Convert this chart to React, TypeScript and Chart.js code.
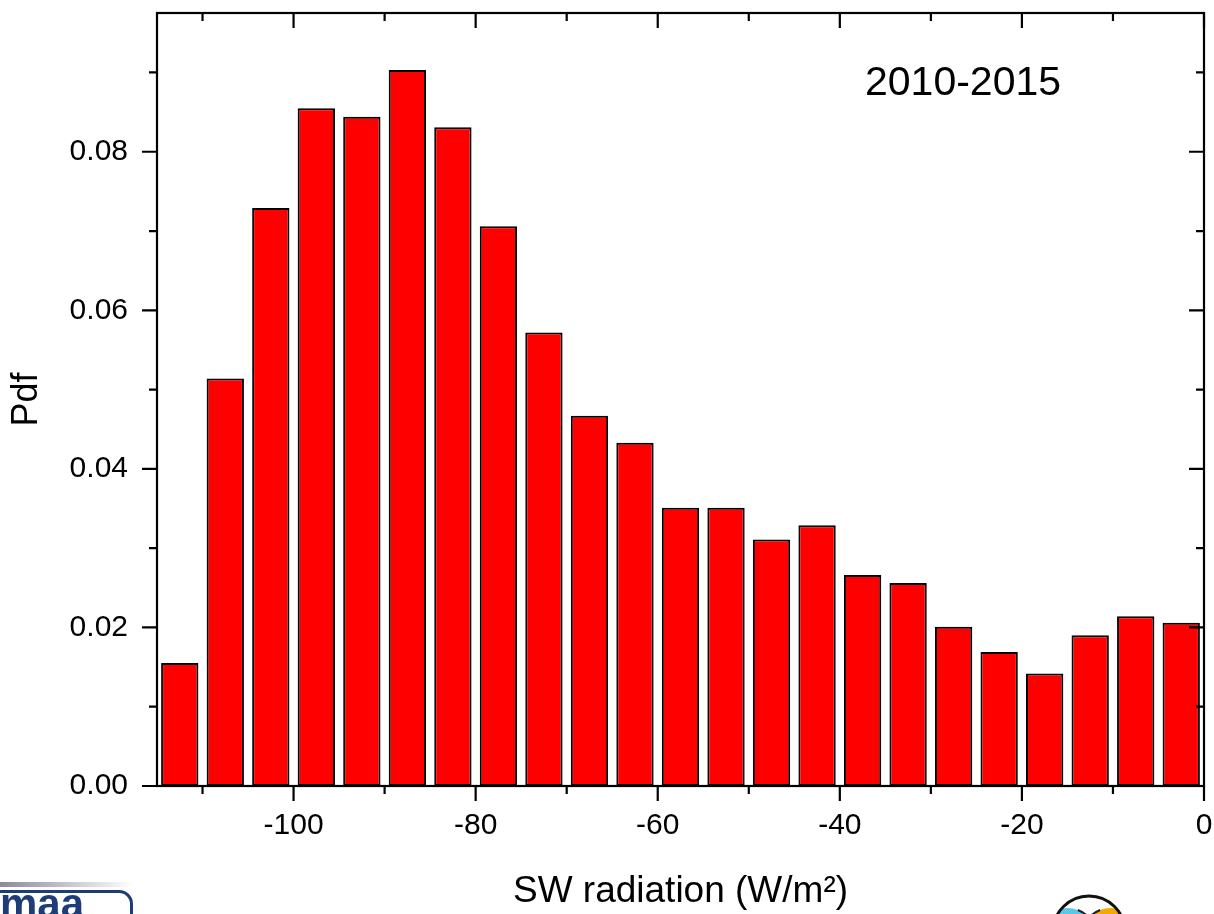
import React, { useEffect, useRef } from 'react';
import { Chart, registerables } from 'chart.js';

Chart.register(...registerables);

// Histogram bin centres (W/m^2), bin width 5
const binCenters = [
  -112.5, -107.5, -102.5, -97.5, -92.5, -87.5, -82.5, -77.5, -72.5, -67.5, -62.5, -57.5,
  -52.5, -47.5, -42.5, -37.5, -32.5, -27.5, -22.5, -17.5, -12.5, -7.5, -2.5,
];
const pdfValues = [
  0.0155, 0.0514, 0.0729, 0.0855, 0.0844, 0.0903, 0.0831, 0.0706, 0.0572, 0.0467, 0.0433, 0.0351,
  0.0351, 0.0311, 0.0329, 0.0266, 0.0256, 0.0201, 0.0169, 0.0142, 0.019, 0.0214, 0.0206,
];
const xMajorTicks = [-100, -80, -60, -40, -20, 0];
const xMinorTicks = [-110, -90, -70, -50, -30, -10];
const yMajorTicks = [0, 0.02, 0.04, 0.06, 0.08];
const yMinorTicks = [0.01, 0.03, 0.05, 0.07, 0.09];
const periodLabel = '2010-2015';
const xTitle = 'SW radiation (W/m²)';
const yTitle = 'Pdf';

const FONT = '"Liberation Sans", Arial, sans-serif';

const zeroPadding = (scale: any) => {
  scale.paddingTop = 0;
  scale.paddingBottom = 0;
  scale.paddingLeft = 0;
  scale.paddingRight = 0;
};

const framePlugin = {
  id: 'frameTicks',
  afterDatasetsDraw(chart: any) {
    const { ctx, chartArea, scales } = chart;
    const { left, right, top, bottom } = chartArea;
    const x = scales.x;
    const y = scales.y;
    ctx.save();
    ctx.strokeStyle = '#000';
    ctx.lineWidth = 2.2;
    ctx.strokeRect(left, top, right - left, bottom - top);
    ctx.beginPath();
    const xt = (v: number, len: number) => {
      const px = x.getPixelForValue(v);
      ctx.moveTo(px, bottom);
      ctx.lineTo(px, bottom + len);
      ctx.moveTo(px, top);
      ctx.lineTo(px, top + len);
    };
    const yt = (v: number, len: number) => {
      const py = y.getPixelForValue(v);
      ctx.moveTo(left - len, py);
      ctx.lineTo(left, py);
      ctx.moveTo(right, py);
      ctx.lineTo(right - len, py);
    };
    xMajorTicks.forEach((v) => xt(v, 15));
    xMinorTicks.forEach((v) => xt(v, 8));
    yMajorTicks.forEach((v) => yt(v, 15));
    yMinorTicks.forEach((v) => yt(v, 8));
    ctx.stroke();

    ctx.fillStyle = '#000';
    ctx.font = `41px ${FONT}`;
    ctx.textAlign = 'left';
    ctx.textBaseline = 'alphabetic';
    ctx.fillText(periodLabel, 865, 95);
    ctx.restore();
  },
  afterDraw(chart: any) {
    const { ctx } = chart;
    ctx.save();
    // bottom-left logo fragment
    const g = ctx.createLinearGradient(0, 0, 133, 0);
    g.addColorStop(0, '#8a8a9c');
    g.addColorStop(1, '#ffffff');
    ctx.fillStyle = g;
    ctx.fillRect(0, 882, 133, 5);
    ctx.strokeStyle = '#1d3c78';
    ctx.lineWidth = 3;
    ctx.beginPath();
    ctx.moveTo(-10, 891.5);
    ctx.lineTo(119, 891.5);
    ctx.arcTo(131.5, 891.5, 131.5, 904, 12.5);
    ctx.lineTo(131.5, 920);
    ctx.stroke();
    ctx.fillStyle = '#1d3c78';
    ctx.font = `bold 42px ${FONT}`;
    ctx.textBaseline = 'alphabetic';
    ctx.fillText('maa', 0, 918);

    // bottom-right logo fragment
    const cx = 1089;
    const cy = 932;
    const r = 36;
    ctx.save();
    ctx.beginPath();
    ctx.arc(cx, cy, r, 0, Math.PI * 2);
    ctx.clip();
    ctx.fillStyle = '#ffffff';
    ctx.fillRect(cx - r, cy - r, 2 * r, 2 * r);
    ctx.fillStyle = '#5cc8e6';
    ctx.beginPath();
    ctx.arc(cx - 22, cy + 6, 30, 0, Math.PI * 2);
    ctx.fill();
    ctx.fillStyle = '#f2a900';
    ctx.beginPath();
    ctx.arc(cx + 22, cy + 6, 30, 0, Math.PI * 2);
    ctx.fill();
    ctx.strokeStyle = '#222';
    ctx.lineWidth = 2;
    ctx.beginPath();
    ctx.arc(cx - 22, cy + 6, 30, -1.2, 0.2);
    ctx.moveTo(cx + 22 + 30 * Math.cos(Math.PI + 1.2), cy + 6 - 30 * Math.sin(1.2));
    ctx.arc(cx + 22, cy + 6, 30, Math.PI + 1.2, Math.PI - 0.2, true);
    ctx.stroke();
    ctx.restore();
    ctx.strokeStyle = '#111';
    ctx.lineWidth = 3;
    ctx.beginPath();
    ctx.arc(cx, cy, r, 0, Math.PI * 2);
    ctx.stroke();
    ctx.restore();
  },
};

export default function App() {
  const canvasRef = useRef<HTMLCanvasElement | null>(null);

  useEffect(() => {
    document.body.style.margin = '0';
    const canvas = canvasRef.current;
    if (!canvas) return;
    const chart = new Chart(canvas, {
      type: 'bar',
      data: {
        datasets: [
          {
            data: binCenters.map((c, i) => ({ x: c, y: pdfValues[i] })),
            backgroundColor: '#ff0000',
            borderColor: '#000000',
            borderWidth: 2,
            borderSkipped: false,
            barPercentage: 0.82,
            categoryPercentage: 1,
          },
        ],
      },
      options: {
        animation: false,
        responsive: false,
        maintainAspectRatio: false,
        devicePixelRatio: 1,
        layout: { padding: { top: 13, right: 10, left: 0, bottom: 0 } },
        plugins: {
          legend: { display: false },
          tooltip: { enabled: false },
        },
        scales: {
          x: {
            type: 'linear',
            min: -115,
            max: 0,
            offset: false,
            grid: { display: false, drawTicks: false },
            border: { display: false },
            afterBuildTicks: (scale: any) => {
              scale.ticks = xMajorTicks.map((v) => ({ value: v }));
            },
            afterFit: (scale: any) => {
              scale.height = 128;
              zeroPadding(scale);
            },
            ticks: {
              color: '#000',
              font: { family: FONT, size: 30 },
              padding: 22,
              maxRotation: 0,
              autoSkip: false,
              callback: (v: any) => String(v),
            },
            title: {
              display: true,
              text: xTitle,
              color: '#000',
              font: { family: FONT, size: 37 },
              padding: { top: 0, bottom: 0 },
            },
          },
          y: {
            type: 'linear',
            min: 0,
            max: 0.0975,
            grid: { display: false, drawTicks: false },
            border: { display: false },
            afterBuildTicks: (scale: any) => {
              scale.ticks = yMajorTicks.map((v) => ({ value: v }));
            },
            afterFit: (scale: any) => {
              scale.width = 157;
              zeroPadding(scale);
            },
            ticks: {
              color: '#000',
              font: { family: FONT, size: 30 },
              padding: 29,
              autoSkip: false,
              callback: (v: any) => Number(v).toFixed(2),
            },
            title: {
              display: true,
              text: yTitle,
              color: '#000',
              font: { family: FONT, size: 36 },
              padding: { top: 5, bottom: 0 },
            },
          },
        },
      },
      plugins: [framePlugin],
    });
    return () => chart.destroy();
  }, []);

  return (
    <div style={{ width: 1214, height: 914, position: 'relative', background: '#fff' }}>
      <canvas ref={canvasRef} width={1214} height={914} style={{ display: 'block' }} />
    </div>
  );
}
